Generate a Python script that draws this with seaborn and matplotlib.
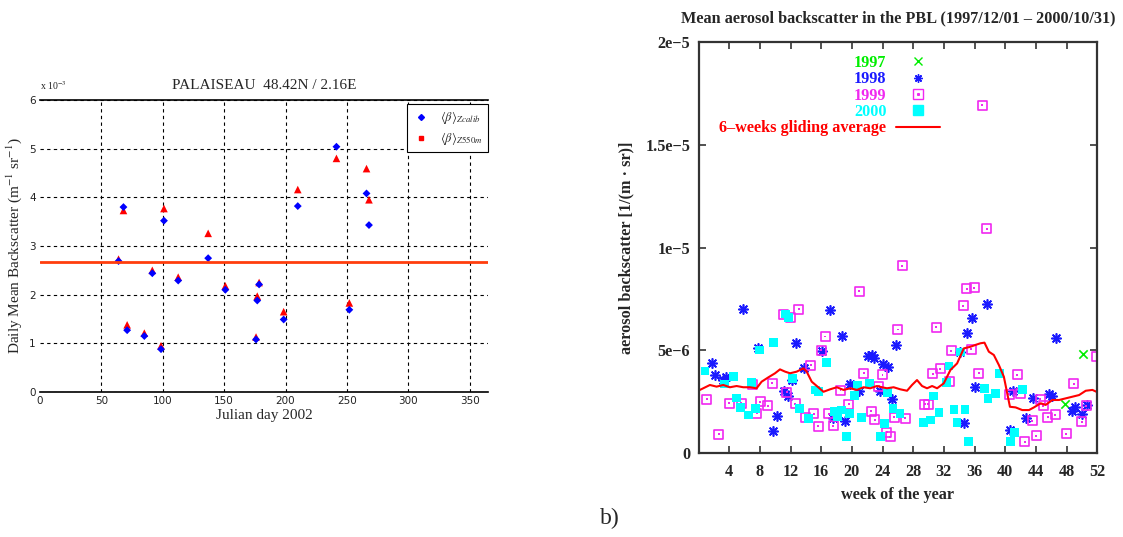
import seaborn as sns
import matplotlib.pyplot as plt
import pandas as pd
from matplotlib.lines import Line2D

sns.set_theme(style="white")
plt.rcParams['font.family'] = ['Liberation Serif', 'DejaVu Serif']
plt.rcParams['mathtext.fontset'] = 'stix'

# ---- left panel: Palaiseau 2002 (values in 1e-3 units)
julian_day = [64, 68, 71, 85, 91.5, 98.6, 101, 112.6, 137, 151, 176, 177, 178.5,
              198.5, 210, 241.5, 252, 266, 268]
beta_zcalib = [2.69, 3.80, 1.27, 1.15, 2.44, 0.88, 3.52, 2.29, 2.75, 2.10, 1.08, 1.88, 2.21,
               1.49, 3.82, 5.04, 1.69, 4.08, 3.43]
beta_z550 = [2.73, 3.73, 1.38, 1.21, 2.50, 0.95, 3.77, 2.36, 3.26, 2.18, 1.13, 1.97, 2.25,
             1.65, 4.16, 4.80, 1.83, 4.59, 3.95]
mean_level = 2.67

# ---- right panel: weekly PBL backscatter (values in 1e-6 units)
week_1997 = [47.85, 50.1]
val_1997 = [2.38, 4.82]

week_1998 = [1.8, 2.2, 3.2, 3.65, 5.78, 7.74, 9.77, 10.2, 11.2, 11.64, 12.2, 12.73, 13.76,
             16.05, 17.16, 17.55, 18.74, 19.16, 19.78, 20.95, 22.15, 22.6, 22.95, 23.62,
             24.08, 24.7, 25.18, 25.7, 34.1, 34.68, 35.07, 35.7, 36.12, 37.68, 40.66, 41.08,
             42.68, 43.66, 45.7, 46.08, 46.68, 48.7, 49.1, 50.08, 50.65]
val_1998 = [4.37, 3.78, 3.56, 3.71, 6.99, 5.13, 1.08, 1.81, 3.0, 2.79, 3.55, 5.37, 4.12,
            4.96, 6.98, 1.68, 5.68, 1.56, 3.38, 3.0, 4.72, 4.76, 4.6, 3.0,
            4.31, 4.19, 2.64, 5.28, 4.93, 1.44, 5.85, 6.55, 3.19, 7.25, 1.13, 3.0,
            1.69, 2.67, 2.88, 2.79, 5.62, 2.05, 2.25, 1.91, 2.34]

week_1999 = [1.08, 2.65, 4.04, 5.6, 7.04, 7.61, 8.05, 9.03, 9.64, 11.07, 11.5, 12.04, 12.6,
             13.05, 13.98, 14.62, 15.06, 15.6, 16.0, 16.56, 17.02, 17.6, 18.52, 19.6, 20.98,
             21.55, 22.56, 22.98, 23.5, 24.0, 24.56, 25.02, 25.56, 25.98, 26.56, 26.99, 29.5,
             29.94, 30.55, 30.99, 31.55, 32.68, 32.95, 34.54, 34.98, 35.57, 35.98, 36.54,
             37.0, 37.57, 40.5, 41.55, 41.98, 42.58, 43.52, 44.03, 44.56, 44.98, 45.55,
             46.55, 47.95, 48.96, 49.99, 50.55, 51.93]
val_1999 = [2.61, 0.92, 2.42, 2.42, 3.33, 1.93, 2.49, 2.29, 3.39, 6.76, 2.95, 6.6, 2.4,
            7.0, 1.71, 4.28, 1.91, 1.3, 5.0, 5.67, 1.92, 1.32, 3.06, 2.37, 7.88,
            3.88, 2.03, 1.61, 3.25, 3.8, 1.0, 0.79, 1.74, 6.01, 9.1, 1.69, 2.37,
            2.37, 3.86, 6.11, 4.1, 3.5, 4.97, 7.16, 7.99, 5.05, 8.04, 3.88,
            16.92, 10.92, 2.87, 3.8, 2.9, 0.55, 1.56, 0.83, 2.61, 2.3, 1.73,
            1.85, 0.94, 3.36, 1.52, 2.31, 4.69]

week_2000 = [0.86, 3.43, 4.52, 4.95, 5.48, 6.52, 6.92, 7.42, 7.94, 9.77, 11.3, 11.75, 12.23,
             13.2, 14.37, 15.22, 15.7, 16.68, 17.7, 18.1, 18.7, 19.27, 19.73, 20.38, 20.72,
             21.3, 22.31, 23.78, 24.29, 24.65, 25.36, 26.27, 29.3, 30.25, 30.7, 31.37, 32.34,
             32.68, 33.33, 33.72, 34.18, 34.77, 35.23, 37.26, 37.75, 38.78, 39.3, 40.72,
             41.23, 42.31]
val_2000 = [3.99, 3.36, 3.72, 2.68, 2.23, 1.85, 3.44, 2.17, 5.01, 5.39, 6.76, 6.6, 3.62,
            2.18, 1.69, 3.07, 2.98, 4.41, 2.03, 1.77, 2.09, 0.82, 1.93, 2.81, 3.3,
            1.74, 3.41, 0.82, 1.44, 2.95, 2.17, 1.93, 1.49, 1.61, 2.77, 1.98, 3.45,
            4.23, 2.12, 1.49, 4.92, 2.12, 0.56, 3.15, 2.67, 2.9, 3.88, 0.56,
            1.0, 3.1]

week_avg = [0.18, 1.49, 2.36, 3.23, 4.1, 4.97, 5.84, 6.71, 7.58, 8.23, 9.1, 9.98, 10.63,
            11.29, 11.94, 12.81, 13.68, 14.11, 14.77, 15.43, 16.3, 17.17, 18.04, 18.92,
            19.79, 20.66, 21.53, 22.4, 23.27, 23.93, 24.58, 25.45, 26.32, 27.2, 27.85,
            28.5, 29.16, 29.81, 30.47, 31.12, 31.99, 32.86, 33.73, 34.6, 35.47, 36.13,
            36.78, 37.3, 37.87, 38.52, 39.18, 39.83, 40.27, 40.62, 41.36, 42.23, 43.1,
            43.75, 44.63, 45.28, 46.15, 47.02, 47.9, 48.77, 49.64, 50.51, 51.38, 51.9]
val_avg = [3.07, 3.31, 3.23, 3.31, 3.2, 3.26, 3.2, 3.2, 3.15, 3.47, 3.68, 3.88, 4.07,
           3.96, 3.88, 3.96, 4.12, 3.96, 3.47, 3.26, 2.98, 3.1, 3.2, 3.07,
           3.15, 3.07, 3.2, 3.15, 3.26, 3.2, 3.15, 3.2, 3.1, 3.03, 3.31,
           3.55, 3.26, 3.15, 3.26, 3.15, 3.39, 4.04, 4.36, 5.09, 5.17, 5.26,
           5.34, 5.37, 4.93, 4.77, 4.28, 3.71, 2.9, 2.25, 2.22, 2.09, 2.09,
           2.22, 2.42, 2.34, 2.58, 2.58, 2.66, 2.74, 2.82, 3.03, 3.07, 2.98]

fig = plt.figure(figsize=(11.23, 5.37), dpi=100)
ax1 = fig.add_axes([0.0356, 0.270, 0.399, 0.5438])
ax2 = fig.add_axes([0.622, 0.1564, 0.355, 0.7654])

# ---------------- left panel
df_l = pd.DataFrame({'day': julian_day, 'zcalib': beta_zcalib, 'z550': beta_z550})
sns.scatterplot(data=df_l, x='day', y='z550', ax=ax1, marker='^', color='red',
                s=30, edgecolor='none')
sns.scatterplot(data=df_l, x='day', y='zcalib', ax=ax1, marker='D', color='blue',
                s=16, edgecolor='none')
ax1.axhline(mean_level, color='#ff3d0d', lw=2)
ax1.set_xlim(0, 365)
ax1.set_ylim(0, 6)
ax1.set_xticks(range(0, 351, 50))
ax1.set_yticks(range(0, 7))
ax1.grid(True, color='black', ls=(0, (3, 3)), lw=0.8)
ax1.xaxis.get_gridlines()[0].set_visible(False)
for s in ['left', 'right']:
    ax1.spines[s].set_visible(False)
for s in ['top', 'bottom']:
    ax1.spines[s].set_color('black')
    ax1.spines[s].set_linewidth(1.2)
ax1.tick_params(length=0, labelsize=7.5, labelcolor='#222', pad=3)
for t in ax1.get_xticklabels() + ax1.get_yticklabels():
    t.set_family('DejaVu Sans')
ax1.set_title('PALAISEAU  48.42N / 2.16E', fontsize=11, pad=8)
ax1.set_xlabel('Julian day 2002', fontsize=11, labelpad=2)
ax1.set_ylabel(r'Daily Mean Backscatter (m$^{-1}$ sr$^{-1}$)', fontsize=11, labelpad=4)
ax1.text(0.0, 1.035, r'x 10$^{-3}$', transform=ax1.transAxes, fontsize=7, color='#222')
h1 = [Line2D([], [], ls='none', marker='D', color='blue', ms=3),
      Line2D([], [], ls='none', marker='s', color='red', ms=3)]
leg1 = ax1.legend(h1, [r'$\langle\beta\rangle_{Zcalib}$', r'$\langle\beta\rangle_{Z550m}$'],
                  loc='upper right', bbox_to_anchor=(1.0, 0.985), fontsize=9,
                  fancybox=False, edgecolor='black', framealpha=1, borderaxespad=0,
                  handlelength=1.5, labelspacing=0.3)
leg1.get_frame().set_linewidth(0.8)

# ---------------- right panel
df97 = pd.DataFrame({'week': week_1997, 'beta': [v * 1e-6 for v in val_1997]})
df98 = pd.DataFrame({'week': week_1998, 'beta': [v * 1e-6 for v in val_1998]})
df99 = pd.DataFrame({'week': week_1999, 'beta': [v * 1e-6 for v in val_1999]})
df00 = pd.DataFrame({'week': week_2000, 'beta': [v * 1e-6 for v in val_2000]})
dfav = pd.DataFrame({'week': week_avg, 'beta': [v * 1e-6 for v in val_avg]})

fs = 11.7
c97, c98, c99, c00 = '#00ee00', '#1a1aff', '#f028f0', '#00ffff'
sns.scatterplot(data=df97, x='week', y='beta', ax=ax2, marker='x', color=c97, s=36, linewidth=1.2)
sns.scatterplot(data=df98, x='week', y='beta', ax=ax2, marker=(8, 2, 0), color=c98, s=45,
                linewidth=1.2, edgecolor=c98)
sns.scatterplot(data=df99, x='week', y='beta', ax=ax2, marker='s', facecolor='none',
                edgecolor=c99, s=42, linewidth=1.2)
sns.scatterplot(data=df99, x='week', y='beta', ax=ax2, marker='s', color=c99, s=2,
                edgecolor='none')
sns.scatterplot(data=df00, x='week', y='beta', ax=ax2, marker='s', color=c00, s=40,
                edgecolor='none')
sns.lineplot(data=dfav, x='week', y='beta', ax=ax2, color='red', lw=1.5)

ax2.set_xlim(0, 52)
ax2.set_ylim(0, 2e-5)
ax2.set_xticks(range(4, 53, 4))
ax2.set_xticklabels([str(w) for w in range(4, 53, 4)], fontweight='bold', fontsize=fs)
ax2.set_yticks([0, 5e-6, 1e-5, 1.5e-5, 2e-5])
ax2.set_yticklabels(['0', '5e\u22126', '1e\u22125', '1.5e\u22125', '2e\u22125'],
                    fontweight='bold', fontsize=fs)
ax2.tick_params(direction='in', length=5, width=1.2, top=True, right=True,
                bottom=True, left=True, color='#333', pad=6)
ax2.tick_params(axis='x', pad=8)
for s in ax2.spines.values():
    s.set_color('#333')
    s.set_linewidth(1.6)
ax2.set_xlabel('week of the year', fontweight='bold', fontsize=fs, labelpad=5)
ax2.set_ylabel('aerosol backscatter [1/(m \u00b7 sr)]', fontweight='bold', fontsize=fs,
               labelpad=8)
ax2.set_title('Mean aerosol backscatter in the PBL (1997/12/01 \u2013 2000/10/31)',
              fontweight='bold', fontsize=fs, pad=14)

h2 = [Line2D([], [], ls='none', marker='x', color=c97, ms=6),
      Line2D([], [], ls='none', marker=(8, 2, 0), color=c98, ms=6),
      (Line2D([], [], ls='none', marker='s', mfc='none', mec=c99, ms=6.5),
       Line2D([], [], ls='none', marker='s', color=c99, ms=1.2)),
      Line2D([], [], ls='none', marker='s', color=c00, ms=6.5),
      Line2D([], [], color='red', lw=1.5)]
leg2 = ax2.legend(h2, ['1997', '1998', '1999', '2000', '6\u2013weeks gliding average'],
                  loc='upper right', bbox_to_anchor=(0.606, 0.968), markerfirst=False,
                  frameon=False, labelcolor=[c97, c98, c99, c00, 'red'],
                  prop={'weight': 'bold', 'size': fs}, handlelength=2.7,
                  handletextpad=0.6, labelspacing=0.02, borderpad=0, borderaxespad=0)

fig.text(0.534, 0.025, 'b)', fontsize=17)

fig.savefig('out.png', dpi=100)
